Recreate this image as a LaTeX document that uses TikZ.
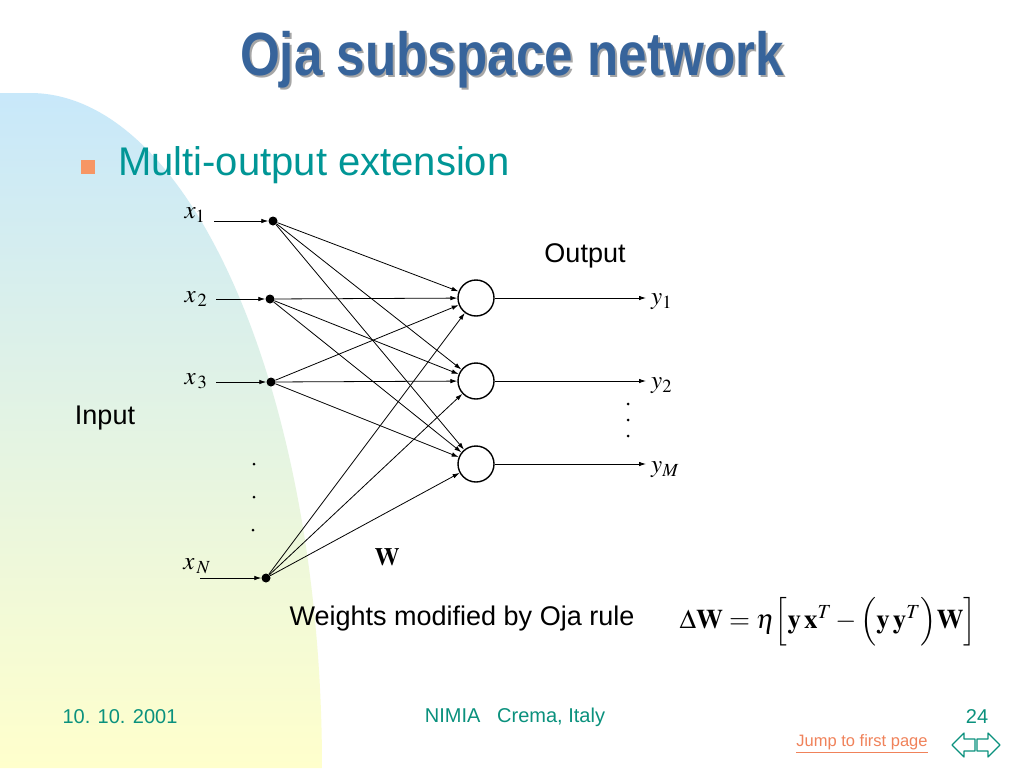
\documentclass[tikz,border=0pt]{standalone}
\usepackage{amsmath}
\usepackage{mathptmx}
\usepackage[no-math]{fontspec}
\setmainfont{Liberation Sans}
\usetikzlibrary{arrows.meta,positioning}
\definecolor{titleblue}{RGB}{55,100,155}
\definecolor{slideteal}{RGB}{0,150,150}
\definecolor{footteal}{RGB}{10,145,125}
\definecolor{bulletorange}{RGB}{247,150,100}
\definecolor{linkorange}{RGB}{240,130,90}
\definecolor{skyblue}{RGB}{200,232,250}
\definecolor{paleyellow}{RGB}{255,255,204}
\tikzset{
  >={Latex[length=7pt,width=4.5pt]},
  neuron/.style={circle,draw,line width=1.4pt,minimum size=36pt,inner sep=0pt},
  inode/.style={circle,fill,minimum size=9pt,inner sep=0pt},
  vdot/.style={circle,fill,minimum size=3pt,inner sep=0pt},
  arr/.style={->,line width=0.8pt},
  lbl/.style={inner sep=0pt,font=\fontsize{27}{30}\selectfont},
  sym/.style={inner sep=0pt,font=\fontsize{25}{27}\selectfont},
  foot/.style={inner sep=0pt,text=footteal,font=\fontsize{20}{22}\selectfont},
}

\begin{document}
\begin{tikzpicture}[x=1pt,y=-1pt]
    \useasboundingbox (0,0) rectangle (1024,768);
    \fill[white] (0,0) rectangle (1024,768);

    % background curve
    \shade[top color=skyblue,bottom color=paleyellow]
      (0,93) -- (30,93) arc[start angle=-90,end angle=0,x radius=292,y radius=675]
      -- (0,768) -- cycle;

    % title and bullet
    \node[inner sep=0pt,text=black!35,font=\fontsize{61}{64}\selectfont\bfseries]
      at (514,62) {\scalebox{0.84}[1]{Oja subspace network}};
    \node[inner sep=0pt,text=titleblue,font=\fontsize{61}{64}\selectfont\bfseries]
      (TITLE) at (512,60) {\scalebox{0.84}[1]{Oja subspace network}};
    \node[fill=bulletorange,minimum size=14pt,inner sep=0pt] (BUL) at (88,167) {};
    \node[anchor=west,inner sep=0pt,text=slideteal,font=\fontsize{40}{44}\selectfont]
      (SUB) at (118,165) {Multi-output extension};

    % input nodes
    \node[inode] (X1) at (273,221) {};
    \node[inode] (X2) at (270,299) {};
    \node[inode] (X3) at (271,382) {};
    \node[inode] (XN) at (266,578) {};
    \coordinate (S1) at (214,221);
    \coordinate (S2) at (216,299);
    \coordinate (S3) at (216,382);
    \coordinate (SN) at (200,578);

    % output neurons
    \node[neuron] (Y1) at (476,298) {};
    \node[neuron] (Y2) at (476,381) {};
    \node[neuron] (Y3) at (476,464) {};
    \coordinate (O1) at (646,298);
    \coordinate (O2) at (646,381);
    \coordinate (O3) at (646,464);

    \path (S1) edge[arr] (X1);
    \path (S2) edge[arr] (X2);
    \path (S3) edge[arr] (X3);
    \path (SN) edge[arr] (XN);
    \foreach \i in {X1,X2,X3,XN}
      \foreach \o in {Y1,Y2,Y3}
        \draw[arr] (\i) -- (\o);
    \path (Y1) edge[arr] (O1);
    \path (Y2) edge[arr] (O2);
    \path (Y3) edge[arr] (O3);

    % dots
    \node[vdot] (D1) at (254,464) {};
    \node[vdot] (D2) at (254,497) {};
    \node[vdot] (D3) at (253,530) {};
    \node[vdot] (E1) at (628,404) {};
    \node[vdot] (E2) at (628,420) {};
    \node[vdot] (E3) at (628,436) {};

    % labels
    \node[sym] (LX1) at (195,215) {$x_1$};
    \node[sym] (LX2) at (196,299) {$x_{\,2}$};
    \node[sym] (LX3) at (196,381) {$x_{\,3}$};
    \node[sym] (LXN) at (197,566) {$x_{\,N}$};
    \node[sym,anchor=west] (LY1) at (651,302) {$y_1$};
    \node[sym,anchor=west] (LY2) at (651,386) {$y_2$};
    \node[sym,anchor=west] (LY3) at (651,470) {$y_M$};
    \node[lbl] (OUT) at (585,256) {Output};
    \node[lbl] (INP) at (105,418) {Input};
    \node[sym] (WT) at (387,557) {$\mathbf{W}$};
    \node[lbl] (RULE) at (462,619) {Weights modified by Oja rule};
    \node[inner sep=0pt,font=\fontsize{27}{30}\selectfont] (EQ) at (828,622)
      {$\Delta\mathbf{W}=\eta\Bigl[\mathbf{y}\,\mathbf{x}^{T}-\Bigl(\mathbf{y}\,\mathbf{y}^{T}\Bigr)\mathbf{W}\Bigr]$};

    % footer
    \node[foot] (DATE) at (120,717) {10. 10. 2001};
    \node[foot] (PLACE) at (515,717) {NIMIA\ \ \ Crema, Italy};
    \node[foot] (PAGE) at (977,717) {24};
    \node[inner sep=0pt,text=linkorange,font=\fontsize{16.5}{18}\selectfont]
      (JUMP) at (862,744) {\underline{Jump to first page}};
    \draw[footteal,line width=1.2pt,line join=round]
      (952,745) -- (964,733) -- (964,739) -- (975,739) -- (975,751)
      -- (964,751) -- (964,757) -- cycle;
    \draw[footteal,line width=1.2pt,line join=round]
      (1000,745) -- (988,733) -- (988,739) -- (977,739) -- (977,751)
      -- (988,751) -- (988,757) -- cycle;
  \end{tikzpicture}
\end{document}
